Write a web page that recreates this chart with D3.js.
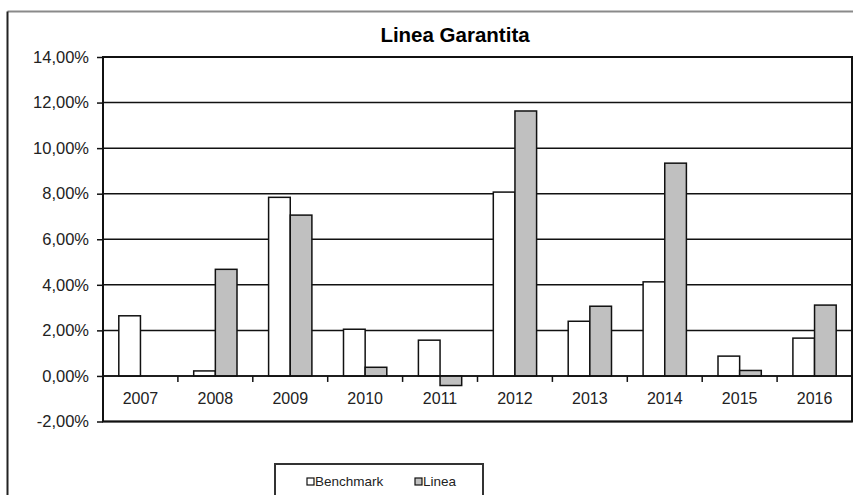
<!DOCTYPE html>
<html>
<head>
<meta charset="utf-8">
<script src="https://cdn.jsdelivr.net/npm/d3@7"></script>
<style>
  body { margin: 0; background: #fff; }
  svg { display: block; font-family: Arial, "Liberation Sans", sans-serif; }
</style>
</head>
<body>
<div id="chart"></div>
<script>
// data
var years = ["2007", "2008", "2009", "2010", "2011", "2012", "2013", "2014", "2015", "2016"];
var seriesNames = ["Benchmark", "Linea"];
var benchmark = [2.64, 0.22, 7.84, 2.05, 1.57, 8.07, 2.40, 4.13, 0.87, 1.66];
var linea = [0, 4.68, 7.06, 0.38, -0.42, 11.63, 3.06, 9.34, 0.24, 3.11];
var yTicks = [-2, 0, 2, 4, 6, 8, 10, 12, 14];
var colors = ["#ffffff", "#c0c0c0"];

var w = 853, h = 495;
var margin = {top: 57, right: 1, bottom: 73, left: 103};

var svg = d3.select("#chart")
            .append("svg")
            .attr("width", w)
            .attr("height", h);

// outer chart frame (only top and left edges visible)
svg.append("line")
   .attr("x1", 7.5).attr("x2", w).attr("y1", 11.5).attr("y2", 11.5)
   .style("stroke", "#8a8a8a").style("stroke-width", 2);
svg.append("line")
   .attr("x1", 7.5).attr("x2", 7.5).attr("y1", 11.5).attr("y2", h)
   .style("stroke", "#222").style("stroke-width", 2);

svg.append("text")
   .attr("x", 455)
   .attr("y", 42)
   .attr("text-anchor", "middle")
   .style("font-size", "20.5px")
   .style("font-weight", "bold")
   .text("Linea Garantita");

var x0 = d3.scaleBand()
           .domain(years)
           .range([margin.left, w - margin.right]);

var cw = x0.bandwidth();
var barW = cw / 3.46;
var x1 = d3.scaleBand()
           .domain(seriesNames)
           .range([(cw - 2 * barW) / 2, (cw + 2 * barW) / 2]);

var y = d3.scaleLinear()
          .domain([-2, 14])
          .range([h - margin.bottom - 0.5, margin.top]);

// gridlines
svg.append("g")
   .selectAll("line")
   .data(yTicks)
   .enter()
   .append("line")
   .attr("x1", margin.left)
   .attr("x2", w - margin.right)
   .attr("y1", function(d){ return y(d); })
   .attr("y2", function(d){ return y(d); })
   .style("stroke", "#111")
   .style("stroke-width", 1.5);

// y axis labels and ticks (plain hyphen for negatives, comma decimals)
var yAxis = d3.axisLeft(y)
              .tickValues(yTicks)
              .tickSize(6)
              .tickPadding(8)
              .tickFormat(function(d){ return d3.format(".2f")(d).replace("\u2212", "-").replace(".", ",") + "%"; });

svg.append("g")
   .attr("transform", "translate(" + margin.left + ",0)")
   .call(yAxis)
   .call(function(g){
     g.select(".domain").remove();
     g.selectAll(".tick line").style("stroke", "#111").style("stroke-width", 1.5);
     g.selectAll(".tick text").style("font-size", "16.5px").style("fill", "#222");
   });

// bars
var rows = years.map(function(yr, i){
  return {year: yr, values: [benchmark[i], linea[i]]};
});

var groups = svg.append("g")
                .selectAll("g")
                .data(rows)
                .enter()
                .append("g")
                .attr("transform", function(d){ return "translate(" + x0(d.year) + ",0)"; });

groups.selectAll("rect")
      .data(function(d){ return d.values.map(function(v, j){ return {name: seriesNames[j], value: v, j: j}; }); })
      .enter()
      .filter(function(d){ return d.value !== 0; })
      .append("rect")
      .attr("x", function(d){ return x1(d.name); })
      .attr("y", function(d){ return y(Math.max(0, d.value)); })
      .attr("width", x1.bandwidth())
      .attr("height", function(d){ return Math.abs(y(d.value) - y(0)); })
      .style("fill", function(d){ return colors[d.j]; })
      .style("stroke", "#111")
      .style("stroke-width", 1.5);

// zero line on top of bars, with category ticks and labels
svg.append("line")
   .attr("x1", margin.left).attr("x2", w - margin.right)
   .attr("y1", y(0)).attr("y2", y(0))
   .style("stroke", "#111").style("stroke-width", 1.5);

svg.append("g")
   .selectAll("line")
   .data(years.slice(1))
   .enter()
   .append("line")
   .attr("x1", function(d){ return x0(d); })
   .attr("x2", function(d){ return x0(d); })
   .attr("y1", y(0))
   .attr("y2", y(0) + 6)
   .style("stroke", "#111")
   .style("stroke-width", 1.5);

svg.append("g")
   .selectAll("text")
   .data(years)
   .enter()
   .append("text")
   .attr("x", function(d){ return x0(d) + cw / 2; })
   .attr("y", y(0) + 28)
   .attr("text-anchor", "middle")
   .style("font-size", "16px")
   .style("fill", "#222")
   .text(function(d){ return d; });

// plot frame
svg.append("rect")
   .attr("x", margin.left)
   .attr("y", y(14))
   .attr("width", w - margin.right - margin.left)
   .attr("height", y(-2) - y(14))
   .style("fill", "none")
   .style("stroke", "#111")
   .style("stroke-width", 2);

// legend
var lg = svg.append("g").attr("transform", "translate(275,464)");
lg.append("rect")
  .attr("width", 208).attr("height", 40)
  .style("fill", "#fff").style("stroke", "#333").style("stroke-width", 2);

var lx = [32, 140];
seriesNames.forEach(function(name, i){
  lg.append("rect")
    .attr("x", lx[i]).attr("y", 14)
    .attr("width", 7).attr("height", 7)
    .style("fill", colors[i]).style("stroke", "#111").style("stroke-width", 1.2);
  lg.append("text")
    .attr("x", lx[i] + 8).attr("y", 22)
    .style("font-size", "13.5px")
    .style("fill", "#222")
    .text(name);
});
</script>
</body>
</html>
